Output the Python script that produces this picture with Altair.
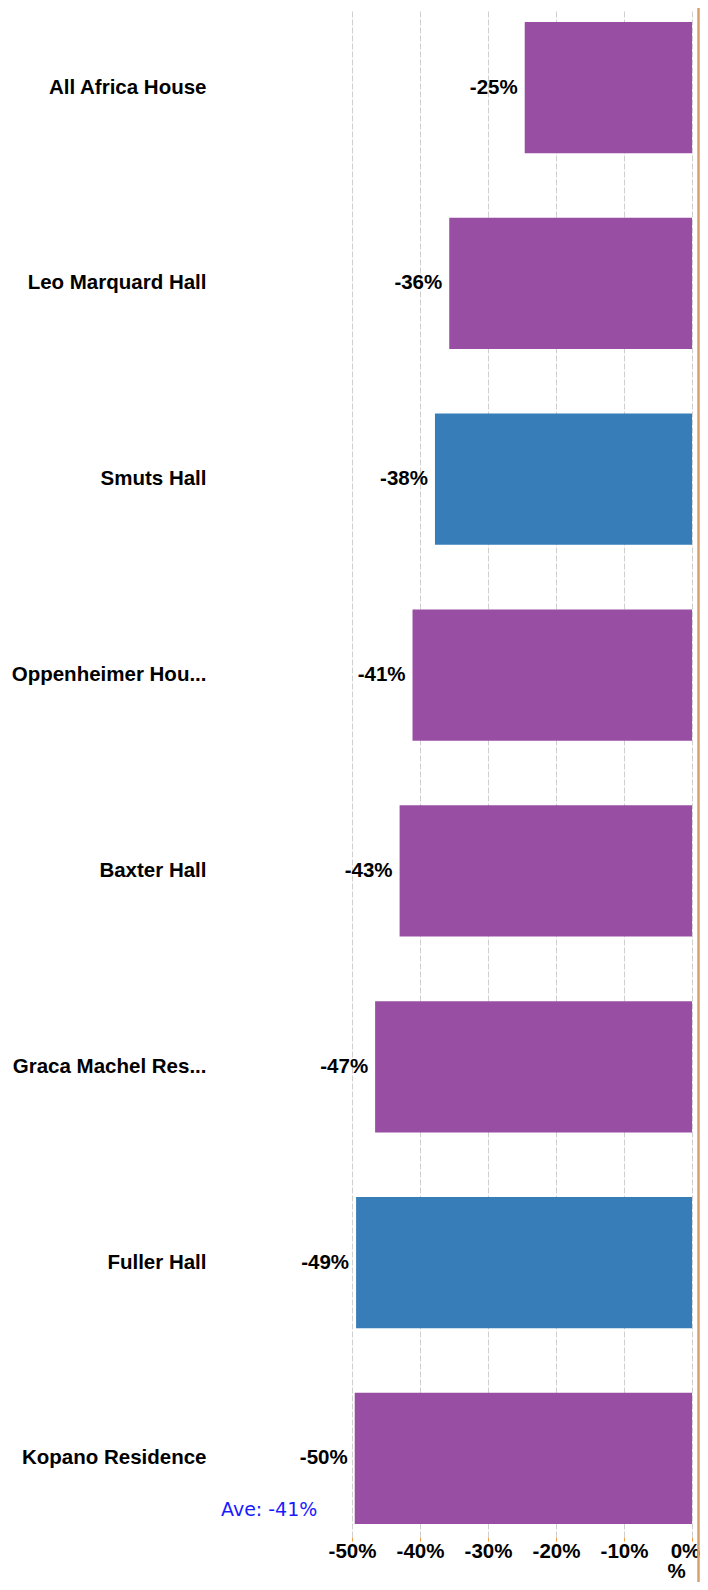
import altair as alt
import pandas as pd

names = ["All Africa House", "Leo Marquard Hall", "Smuts Hall", "Oppenheimer Hou...",
         "Baxter Hall", "Graca Machel Res...", "Fuller Hall", "Kopano Residence"]
values = [-0.246, -0.357, -0.378, -0.411, -0.430, -0.466, -0.494, -0.496]
groups = ["A", "A", "B", "A", "A", "A", "B", "A"]
group_domain = ["A", "B"]
group_colors = ["#984ea3", "#377eb8"]
x_ticks = [-0.5, -0.4, -0.3, -0.2, -0.1, 0.0]

df = pd.DataFrame({"name": names, "value": values, "group": groups})

W, H = 340, 1528
FONT = "Liberation Sans"
FS = 20.5

base = alt.Chart(df)

y_enc = alt.Y("name:N", sort=names, title=None,
              scale=alt.Scale(paddingInner=0.33, paddingOuter=0.066),
              axis=alt.Axis(labelFont=FONT, labelFontSize=FS, labelFontWeight="bold",
                            labelColor="#000", labelPadding=146, ticks=False, domain=False,
                            labelLimit=300, labelOverlap=False))
x_enc = alt.X("value:Q", scale=alt.Scale(domain=[-0.5, 0], nice=False),
              title="%",
              axis=alt.Axis(values=x_ticks, labelExpr="round(datum.value*100) + '%'",
                            labelFont=FONT, labelFontSize=FS, labelFontWeight="bold",
                            labelColor="#000", labelPadding=0, labelOverlap=False,
                            labelFlush=False,
                            labelOffset={"condition": {"test": "datum.value == 0", "value": -7},
                                         "value": 0},
                            tickColor="#f5a04a",
                            tickSize=4, domain=False, grid=True, gridColor="#cfcfcf",
                            gridDash=[6, 2], gridWidth=1,
                            titleFont=FONT, titleFontSize=FS, titleFontWeight="bold",
                            titleColor="#000", titleX=324, titleY=40,
                            titleAlign="center", titleBaseline="alphabetic"))

bars = base.mark_bar().encode(
    x=x_enc, y=y_enc,
    color=alt.Color("group:N", scale=alt.Scale(domain=group_domain, range=group_colors),
                    legend=None),
)

labels = base.transform_calculate(
    lbl="round(datum.value*100) + '%'"
).mark_text(align="right", baseline="middle", dx=-7, font=FONT, fontSize=FS,
            fontWeight="bold", color="#000").encode(
    x="value:Q", y=alt.Y("name:N", sort=names), text="lbl:N"
)

ave = base.transform_aggregate(
    mean="mean(value)"
).transform_calculate(
    lbl="'Ave: ' + round(datum.mean*100) + '%'"
).mark_text(align="left", baseline="middle", font="DejaVu Sans", fontSize=19,
            color="#1a1aff").encode(
    x=alt.value(-131), y=alt.value(1501), text="lbl:N"
)

edge = alt.Chart(pd.DataFrame({"a": [0]})).mark_rule(
    color="#d9a06c", strokeWidth=2.5
).encode(x=alt.value(346.5), y=alt.value(-10), y2=alt.value(1600))

chart = alt.layer(bars, labels, ave, edge).properties(
    width=W, height=H,
    autosize=alt.AutoSizeParams(type="none"),
    padding={"left": 344, "top": 1, "right": 8, "bottom": 45},
    background="white",
).configure_view(stroke=None)

chart.save("out.html", embed_options={"renderer": "svg", "actions": False})
